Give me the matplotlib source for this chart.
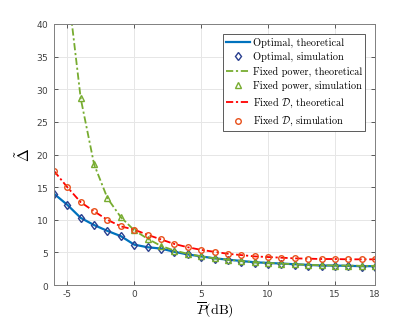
import matplotlib
matplotlib.use("Agg")
import matplotlib.pyplot as plt
import numpy as np

plt.rcParams['mathtext.fontset'] = 'cm'
plt.rcParams['axes.formatter.use_mathtext'] = True

# SNR grid (dB)
p_db = np.arange(-6, 19)

# optimal scheme
opt_theory = [14.0, 12.3, 10.3, 9.2, 8.3, 7.5, 6.2, 5.8, 5.6, 5.1, 4.7, 4.4, 4.1,
              3.9, 3.7, 3.5, 3.4, 3.3, 3.2, 3.1, 3.0, 3.0, 2.95, 2.9, 2.9]
opt_sim = [14.0, 12.3, 10.3, 9.2, 8.3, 7.5, 6.2, 5.8, 5.6, 5.1, 4.7, 4.3, 4.0,
           3.8, 3.6, 3.4, 3.3, 3.2, 3.1, 3.0, 2.95, 2.9, 2.9, 2.85, 2.85]

# fixed power scheme (starts at -5 dB, above the plot range)
fp_db = np.arange(-5, 19)
fp_theory = [46.0, 28.6, 18.5, 13.3, 10.4, 8.4, 7.1, 6.0, 5.3, 4.8, 4.4, 4.1,
             3.9, 3.7, 3.5, 3.4, 3.3, 3.2, 3.1, 3.05, 3.0, 3.0, 2.95, 2.95]
fp_sim = [46.0, 28.6, 18.5, 13.3, 10.4, 8.4, 7.1, 6.0, 5.3, 4.8, 4.4, 4.1,
          3.9, 3.7, 3.5, 3.4, 3.3, 3.2, 3.1, 3.05, 3.0, 3.0, 2.95, 2.95]

# fixed D scheme
fd_theory = [17.5, 15.0, 12.7, 11.3, 10.0, 9.0, 8.5, 7.7, 7.0, 6.3, 5.8, 5.4, 5.1,
             4.8, 4.6, 4.4, 4.3, 4.2, 4.1, 4.05, 4.0, 4.0, 3.95, 3.95, 3.95]
fd_sim = fd_theory

fig = plt.figure(figsize=(4.15, 3.2), dpi=100)
ax = fig.add_axes([0.130, 0.109, 0.774, 0.816])

dashdot = (0, (4, 1.5, 1.2, 1.5))
ax.plot(p_db, opt_theory, '-', color='#0072BD', lw=1.6, label='Optimal, theoretical')
ax.plot(p_db, opt_sim, 'd', color='none', markeredgecolor='#2A3F8F', mew=1.0, ms=4.5,
        label='Optimal, simulation')
ax.plot(fp_db, fp_theory, linestyle=dashdot, color='#77AC30', lw=1.3,
        label='Fixed power, theoretical')
ax.plot(fp_db, fp_sim, '^', color='none', markeredgecolor='#77AC30', mew=1.0, ms=4.5,
        label='Fixed power, simulation')
ax.plot(p_db, fd_theory, linestyle=dashdot, color='#FF0000', lw=1.3,
        label=r'Fixed $\mathcal{D}$, theoretical')
ax.plot(p_db, fd_sim, 'o', color='none', markeredgecolor='#E8501A', mew=1.0, ms=4,
        label=r'Fixed $\mathcal{D}$, simulation')

ax.set_xlim(-6, 18)
ax.set_ylim(0, 40)
ax.set_xticks([-5, 0, 5, 10, 15, 18])
ax.set_xticklabels(['-5', '0', '5', '10', '15', '18'])
ax.set_yticks(np.arange(0, 41, 5))
ax.grid(True, color='#e6e6e6', lw=0.7)
ax.set_axisbelow(True)
ax.tick_params(direction='in', top=True, right=True, labelsize=6.5, colors='#404040',
               length=3, width=0.6)
for s in ax.spines.values():
    s.set_color('#808080')
    s.set_linewidth(0.7)

ax.set_xlabel(r'$\overline{P}\mathrm{(dB)}$', fontsize=10, labelpad=1)
ax.set_ylabel(r'$\tilde{\Delta}$', fontsize=11, labelpad=2)

leg = ax.legend(loc='upper right', prop={'family': 'cmr10', 'size': 7.4},
                frameon=True, fancybox=False, borderpad=0.3, labelspacing=0.42,
                handlelength=2.4, handletextpad=0.2, borderaxespad=1.0)
leg.get_frame().set_edgecolor('#404040')
leg.get_frame().set_linewidth(0.6)
leg.get_frame().set_alpha(1)

fig.savefig('out.png', dpi=100)
